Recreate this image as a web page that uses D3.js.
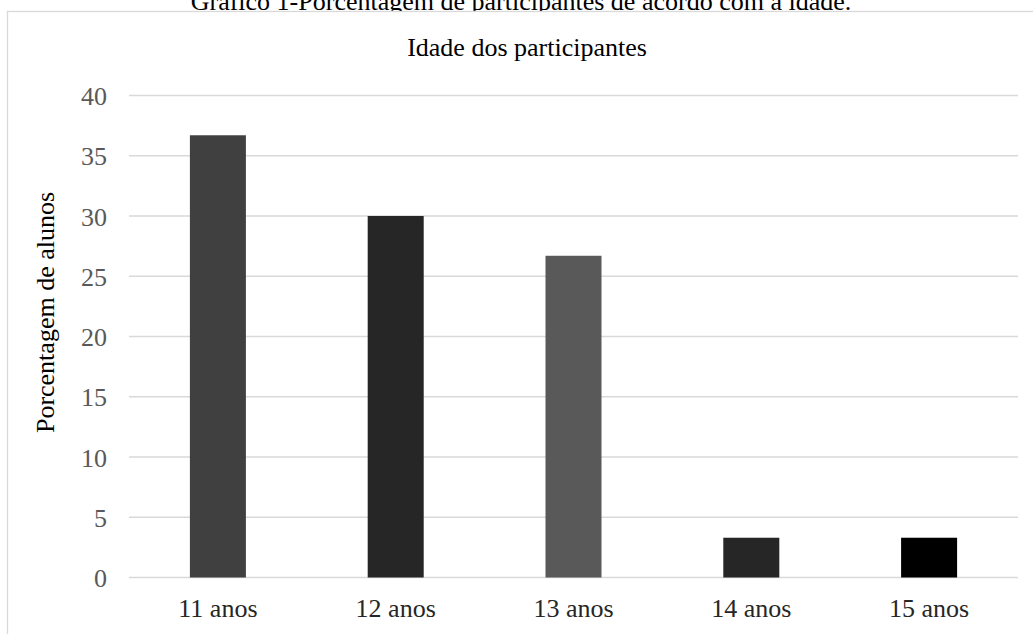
<!DOCTYPE html>
<html>
<head>
<meta charset="utf-8">
<script src="https://cdn.jsdelivr.net/npm/d3@7"></script>
<style>
  html, body { margin: 0; padding: 0; background: #fff; overflow: hidden; }
  svg { display: block; font-family: "Liberation Serif", "Times New Roman", serif; }
</style>
</head>
<body>
<div id="chart"></div>
<script>
const categories = ["11 anos", "12 anos", "13 anos", "14 anos", "15 anos"];
const values = [36.7, 30.0, 26.7, 3.3, 3.3];
const barColors = ["#404040", "#262626", "#595959", "#262626", "#000000"];
const yTicks = [0, 5, 10, 15, 20, 25, 30, 35, 40];
const caption = "Gráfico 1-Porcentagem de participantes de acordo com a idade.";
const title = "Idade dos participantes";
const yLabel = "Porcentagem de alunos";

const w = 1033;
const h = 634;
const padding = { t: 95.5, b: 56.5, s: 129, e: 15 };
const font = 26;

const svg = d3.select("#chart").append("svg").attr("width", w).attr("height", h);

// caption sits behind the chart box, so only its lower half shows
svg.append("text")
  .attr("x", 521)
  .attr("y", 9.5)
  .attr("text-anchor", "middle")
  .attr("font-size", font)
  .attr("fill", "#000")
  .text(caption);

svg.append("rect")
  .attr("x", 7.5)
  .attr("y", 11.5)
  .attr("width", w + 20)
  .attr("height", h + 20)
  .attr("fill", "#fff")
  .attr("stroke", "#d9d9d9")
  .attr("stroke-width", 1.3);

const xScale = d3.scaleBand()
  .domain(categories)
  .range([padding.s, w - padding.e])
  .paddingInner(0.685)
  .paddingOuter(0.3425);

const yScale = d3.scaleLinear()
  .domain([0, 40])
  .range([h - padding.b, padding.t]);

svg.append("g")
  .selectAll("line")
  .data(yTicks)
  .enter()
  .append("line")
  .attr("x1", padding.s)
  .attr("x2", w - padding.e)
  .attr("y1", (d) => yScale(d))
  .attr("y2", (d) => yScale(d))
  .attr("stroke", "#d9d9d9")
  .attr("stroke-width", 1.4);

svg.append("g")
  .selectAll("rect")
  .data(values)
  .enter()
  .append("rect")
  .attr("x", (d, i) => xScale(categories[i]))
  .attr("width", xScale.bandwidth())
  .attr("y", (d) => yScale(d))
  .attr("height", (d) => yScale(0) - yScale(d))
  .attr("fill", (d, i) => barColors[i]);

const yAxis = svg.append("g")
  .attr("transform", `translate(${padding.s}, 0)`)
  .call(d3.axisLeft(yScale).tickValues(yTicks).tickSize(0).tickPadding(22));
yAxis.select(".domain").remove();
yAxis.selectAll("text")
  .attr("font-family", "Liberation Serif")
  .attr("font-size", font)
  .attr("fill", "#595959")
  .attr("dy", "0.35em");

const xAxis = svg.append("g")
  .attr("transform", `translate(0, ${yScale(0)})`)
  .call(d3.axisBottom(xScale).tickSize(0).tickPadding(0));
xAxis.select(".domain").remove();
xAxis.selectAll("text")
  .attr("font-family", "Liberation Serif")
  .attr("font-size", font)
  .attr("fill", "#262626")
  .attr("dy", 0)
  .attr("y", 39.5);

svg.append("text")
  .attr("x", 527)
  .attr("y", 55.5)
  .attr("text-anchor", "middle")
  .attr("font-size", font)
  .attr("fill", "#000")
  .text(title);

svg.append("text")
  .attr("transform", `translate(54, 312.5) rotate(-90)`)
  .attr("text-anchor", "middle")
  .attr("font-size", font)
  .attr("fill", "#000")
  .text(yLabel);
</script>
</body>
</html>
